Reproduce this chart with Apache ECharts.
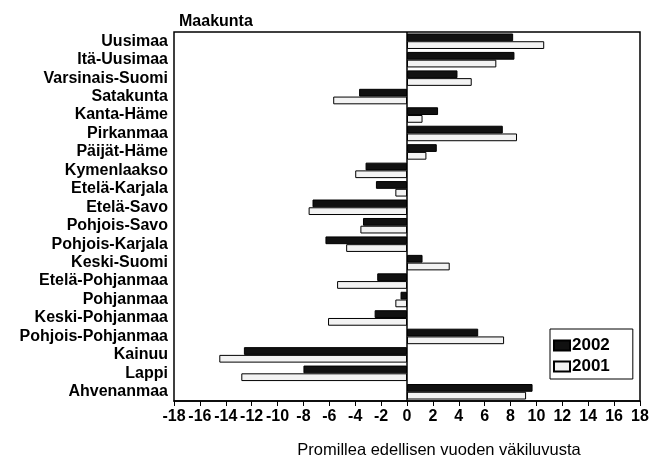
<!DOCTYPE html>
<html>
<head>
<meta charset="utf-8">
<title>Maakunta</title>
<script src="https://cdn.jsdelivr.net/npm/echarts@6/dist/echarts.min.js"></script>
<style>
  html,body{margin:0;padding:0;background:#fff;}
  #chart{width:652px;height:460px;}
</style>
</head>
<body>
<div id="chart"></div>
<script>
  var categories = ['Uusimaa','Itä-Uusimaa','Varsinais-Suomi','Satakunta','Kanta-Häme','Pirkanmaa',
    'Päijät-Häme','Kymenlaakso','Etelä-Karjala','Etelä-Savo','Pohjois-Savo','Pohjois-Karjala',
    'Keski-Suomi','Etelä-Pohjanmaa','Pohjanmaa','Keski-Pohjanmaa','Pohjois-Pohjanmaa','Kainuu',
    'Lappi','Ahvenanmaa'];
  var values2002 = [8.2, 8.3, 3.9, -3.7, 2.4, 7.4, 2.3, -3.2, -2.4, -7.3, -3.4, -6.3, 1.2, -2.3, -0.5, -2.5, 5.5, -12.6, -8.0, 9.7];
  var values2001 = [10.6, 6.9, 5.0, -5.7, 1.2, 8.5, 1.5, -4.0, -0.9, -7.6, -3.6, -4.7, 3.3, -5.4, -0.9, -6.1, 7.5, -14.5, -12.8, 9.2];
  var xMin = -18, xMax = 18, xStep = 2;

  var font = 'Liberation Sans, Arial, sans-serif';
  var chart = echarts.init(document.getElementById('chart'));

  var options = {
    animation: false,
    textStyle: {fontFamily: font, color: '#000'},
    title: [
      {
        text: 'Maakunta',
        left: 174, top: 9,
        textStyle: {fontFamily: font, fontSize: 16, fontWeight: 'bold', color: '#000'}
      },
      {
        text: 'Promillea edellisen vuoden väkiluvusta',
        left: 434, top: 437, textAlign: 'center',
        textStyle: {fontFamily: font, fontSize: 16.5, fontWeight: 'normal', color: '#000'}
      }
    ],
    legend: {
      data: ['2002', '2001'],
      orient: 'vertical',
      left: 550, top: 329,
      padding: [8, 23, 4, 3],
      itemGap: 4,
      itemWidth: 16, itemHeight: 10,
      icon: 'rect',
      borderColor: '#000', borderWidth: 1,
      backgroundColor: '#fff',
      textStyle: {fontFamily: font, fontSize: 17, fontWeight: 'bold', color: '#000', padding: [0, 0, 0, -3]}
    },
    grid: {
      left: 174, right: 12, top: 32, bottom: 59,
      show: true, borderColor: '#000', borderWidth: 1.5
    },
    xAxis: {
      type: 'value',
      min: xMin, max: xMax, interval: xStep,
      axisLine: {show: true, lineStyle: {color: '#000', width: 1.5}},
      axisTick: {show: true, length: 5, lineStyle: {color: '#000'}},
      splitLine: {show: false},
      axisLabel: {fontFamily: font, fontSize: 16, fontWeight: 'bold', color: '#000', margin: 8}
    },
    yAxis: {
      type: 'category',
      inverse: true,
      data: categories,
      axisLine: {show: false, onZero: false},
      axisTick: {show: false},
      axisLabel: {interval: 0, fontFamily: font, fontSize: 16, fontWeight: 'bold', color: '#000', margin: 6}
    },
    series: [
      {
        name: '2002',
        type: 'bar',
        data: values2002,
        barGap: '0%',
        barCategoryGap: '16%',
        itemStyle: {color: '#111', borderColor: '#000', borderWidth: 1},
        markLine: {
          silent: true,
          symbol: 'none',
          label: {show: false},
          lineStyle: {color: '#000', width: 1.5, type: 'solid'},
          data: [{xAxis: 0}]
        }
      },
      {
        name: '2001',
        type: 'bar',
        data: values2001,
        barGap: '0%',
        barCategoryGap: '16%',
        itemStyle: {color: '#f3f3f3', borderColor: '#000', borderWidth: 1}
      }
    ]
  };
  chart.setOption(options);
</script>
</body>
</html>
